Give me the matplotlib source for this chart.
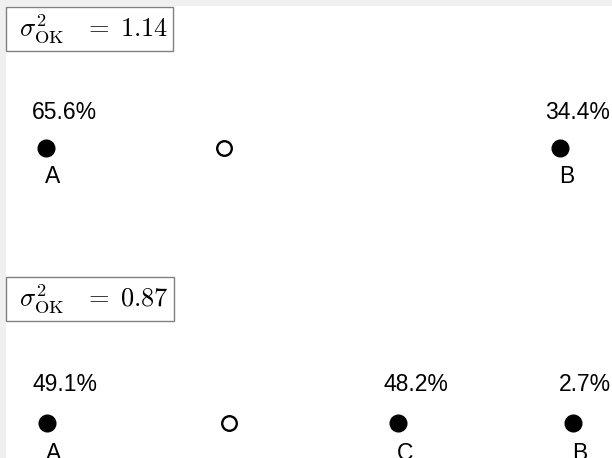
import numpy as np
import matplotlib
matplotlib.use('Agg')
import matplotlib.pyplot as plt
from matplotlib.patches import Rectangle

plt.rcParams['mathtext.fontset'] = 'cm'
plt.rcParams['font.family'] = ['Liberation Sans', 'DejaVu Sans']

# sample locations along the line, and the estimation point
loc_x = {'A': 0.0, 'C': 2.0, 'B': 3.0}
target_x = 1.04

top_names = ['A', 'B']
top_weights = [65.6, 34.4]
top_var = 1.14

bottom_names = ['A', 'C', 'B']
bottom_weights = [49.1, 48.2, 2.7]
bottom_var = 0.87

W, H = 612, 458
fig = plt.figure(figsize=(W / 100, H / 100), dpi=100)
fig.patch.set_facecolor('#f0f0f0')
fig.patches.append(Rectangle((6 / W, 0), 1, 1 - 6 / H, transform=fig.transFigure,
                             facecolor='white', edgecolor='none', zorder=-5))


def panel(row_px, xlim, names, weights, var, box_top_px, pct_dy, lab_dy):
    ax = fig.add_axes([0, (H - row_px - 30) / H, 1, 60 / H])
    ax.set_xlim(*xlim)
    ax.set_ylim(-1, 1)
    ax.axis('off')
    xs = [loc_x[n] for n in names]
    ax.plot(xs, np.zeros(len(xs)), 'o', color='black', ms=12, clip_on=False)
    ax.plot([target_x], [0], 'o', mfc='white', mec='black', mew=1.7, ms=10.5, clip_on=False)
    for x, n, w in zip(xs, names, weights):
        ax.annotate(f'{w}%', (x, 0), xytext=(-10.4, pct_dy), textcoords='offset points',
                    ha='left', va='baseline', fontsize=16.5)
        ax.annotate(n, (x, 0), xytext=(-0.7, lab_dy), textcoords='offset points',
                    ha='left', va='baseline', fontsize=16.5)
    fig.text(11.5 / W, 1 - (box_top_px + 4.5) / H,
             r' $\sigma^2_{\mathrm{OK}}\;\;\;=\;%.2f\,$' % var,
             ha='left', va='top', fontsize=19,
             bbox=dict(boxstyle='square,pad=0.2', fc='white', ec='#808080', lw=1))
    return ax


panel(148, (-46 / 171.33, 566 / 171.33), top_names, top_weights, top_var, 8, 21.2, -25.2)
panel(423, (-47 / 175.33, 565 / 175.33), bottom_names, bottom_weights, bottom_var, 278, 23.0, -26.6)

fig.savefig('out.png', dpi=100, facecolor=fig.get_facecolor())
